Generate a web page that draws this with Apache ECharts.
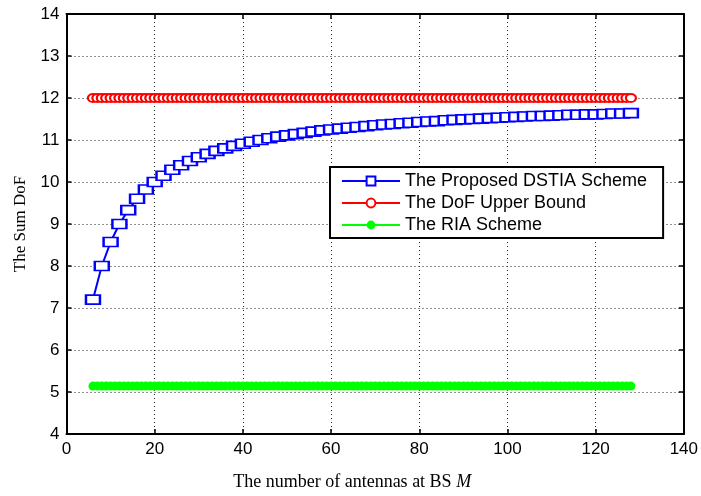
<!DOCTYPE html>
<html lang="en">
<head>
  <meta charset="UTF-8">
  <title>Sum DoF</title>
  <script src="https://cdn.jsdelivr.net/npm/echarts@6/dist/echarts.min.js"></script>
  <style>
    html, body { margin: 0; padding: 0; background: #fff; }
    #main { width: 701px; height: 496px; }
  </style>
</head>
<body>
  <div id="main"></div>
<script>
// number of antennas at BS, M (proposed scheme is plotted at even M)
let antennasEven = [6, 8, 10, 12, 14, 16, 18, 20, 22, 24, 26, 28, 30, 32, 34, 36, 38, 40, 42, 44,
  46, 48, 50, 52, 54, 56, 58, 60, 62, 64, 66, 68, 70, 72, 74, 76, 78, 80, 82, 84,
  86, 88, 90, 92, 94, 96, 98, 100, 102, 104, 106, 108, 110, 112, 114, 116, 118, 120, 122, 124,
  126, 128];
// the two flat curves are plotted at every M
let antennasAll = [6, 7, 8, 9, 10, 11, 12, 13, 14, 15, 16, 17, 18, 19, 20, 21, 22, 23, 24, 25,
  26, 27, 28, 29, 30, 31, 32, 33, 34, 35, 36, 37, 38, 39, 40, 41, 42, 43, 44, 45,
  46, 47, 48, 49, 50, 51, 52, 53, 54, 55, 56, 57, 58, 59, 60, 61, 62, 63, 64, 65,
  66, 67, 68, 69, 70, 71, 72, 73, 74, 75, 76, 77, 78, 79, 80, 81, 82, 83, 84, 85,
  86, 87, 88, 89, 90, 91, 92, 93, 94, 95, 96, 97, 98, 99, 100, 101, 102, 103, 104, 105,
  106, 107, 108, 109, 110, 111, 112, 113, 114, 115, 116, 117, 118, 119, 120, 121, 122, 123, 124, 125,
  126, 127, 128];

// sum DoF
let dstia = [7.20, 8.00, 8.57, 9.00, 9.33, 9.60, 9.82, 10.00, 10.15, 10.29, 10.40, 10.50, 10.59, 10.67, 10.74, 10.80, 10.86, 10.91, 10.96, 11.00,
  11.04, 11.08, 11.11, 11.14, 11.17, 11.20, 11.23, 11.25, 11.27, 11.29, 11.31, 11.33, 11.35, 11.37, 11.38, 11.40, 11.41, 11.43, 11.44, 11.45,
  11.47, 11.48, 11.49, 11.50, 11.51, 11.52, 11.53, 11.54, 11.55, 11.56, 11.57, 11.57, 11.58, 11.59, 11.60, 11.60, 11.61, 11.61, 11.62, 11.63,
  11.63, 11.64];
let upperBound = [12, 12, 12, 12, 12, 12, 12, 12, 12, 12, 12, 12, 12, 12, 12, 12, 12, 12, 12, 12,
  12, 12, 12, 12, 12, 12, 12, 12, 12, 12, 12, 12, 12, 12, 12, 12, 12, 12, 12, 12,
  12, 12, 12, 12, 12, 12, 12, 12, 12, 12, 12, 12, 12, 12, 12, 12, 12, 12, 12, 12,
  12, 12, 12, 12, 12, 12, 12, 12, 12, 12, 12, 12, 12, 12, 12, 12, 12, 12, 12, 12,
  12, 12, 12, 12, 12, 12, 12, 12, 12, 12, 12, 12, 12, 12, 12, 12, 12, 12, 12, 12,
  12, 12, 12, 12, 12, 12, 12, 12, 12, 12, 12, 12, 12, 12, 12, 12, 12, 12, 12, 12,
  12, 12, 12];
let ria = [5.14, 5.14, 5.14, 5.14, 5.14, 5.14, 5.14, 5.14, 5.14, 5.14, 5.14, 5.14, 5.14, 5.14, 5.14, 5.14, 5.14, 5.14, 5.14, 5.14,
  5.14, 5.14, 5.14, 5.14, 5.14, 5.14, 5.14, 5.14, 5.14, 5.14, 5.14, 5.14, 5.14, 5.14, 5.14, 5.14, 5.14, 5.14, 5.14, 5.14,
  5.14, 5.14, 5.14, 5.14, 5.14, 5.14, 5.14, 5.14, 5.14, 5.14, 5.14, 5.14, 5.14, 5.14, 5.14, 5.14, 5.14, 5.14, 5.14, 5.14,
  5.14, 5.14, 5.14, 5.14, 5.14, 5.14, 5.14, 5.14, 5.14, 5.14, 5.14, 5.14, 5.14, 5.14, 5.14, 5.14, 5.14, 5.14, 5.14, 5.14,
  5.14, 5.14, 5.14, 5.14, 5.14, 5.14, 5.14, 5.14, 5.14, 5.14, 5.14, 5.14, 5.14, 5.14, 5.14, 5.14, 5.14, 5.14, 5.14, 5.14,
  5.14, 5.14, 5.14, 5.14, 5.14, 5.14, 5.14, 5.14, 5.14, 5.14, 5.14, 5.14, 5.14, 5.14, 5.14, 5.14, 5.14, 5.14, 5.14, 5.14,
  5.14, 5.14, 5.14];

let seriesNames = ['The Proposed DSTIA Scheme', 'The DoF Upper Bound', 'The RIA Scheme'];

let pairs = function (xs, ys) {
  return xs.map(function (m, i) { return [m, ys[i]]; });
};

let sans = 'Liberation Sans, Arial, sans-serif';
let serif = 'Liberation Serif, Times New Roman, serif';

let dotted = { show: true, lineStyle: { color: '#222', width: 1, type: [1, 3] } };
let axisLine = { show: true, onZero: false, lineStyle: { color: '#000', width: 2 } };
let tick = { show: true, inside: true, length: 5, lineStyle: { color: '#000', width: 1.5 } };

let myChart = echarts.init(document.getElementById('main'));
let option = {
  backgroundColor: '#fff',
  animation: false,
  grid: { left: 66.5, right: 14, top: 14, bottom: 49 },
  legend: {
    orient: 'vertical',
    left: 330,
    top: 167,
    padding: [5, 16, 4, 11],
    itemGap: 4,
    itemWidth: 58,
    itemHeight: 11,
    backgroundColor: '#fff',
    borderColor: '#000',
    borderWidth: 2,
    borderRadius: 0,
    textStyle: { fontFamily: sans, fontSize: 18, color: '#000' },
    data: seriesNames
  },
  xAxis: [
    {
      type: 'value', min: 0, max: 140, interval: 20,
      name: 'The number of antennas at BS {i|M}',
      nameLocation: 'middle', nameGap: 39,
      nameTextStyle: {
        fontFamily: serif, fontSize: 18, color: '#000', padding: [0, 46, 0, 0],
        rich: { i: { fontFamily: serif, fontSize: 18, fontStyle: 'italic', color: '#000' } }
      },
      axisLine: axisLine, axisTick: tick, splitLine: dotted,
      axisLabel: { fontFamily: sans, fontSize: 17, color: '#000', margin: 7 }
    },
    {
      type: 'value', min: 0, max: 140, interval: 20, position: 'top',
      axisLine: axisLine, axisTick: tick, splitLine: { show: false }, axisLabel: { show: false }
    }
  ],
  yAxis: [
    {
      type: 'value', min: 4, max: 14, interval: 1,
      name: 'The Sum DoF',
      nameLocation: 'middle', nameGap: 37,
      nameTextStyle: { fontFamily: serif, fontSize: 17, color: '#000' },
      axisLine: axisLine, axisTick: tick, splitLine: dotted,
      axisLabel: { fontFamily: sans, fontSize: 17, color: '#000', margin: 7 }
    },
    {
      type: 'value', min: 4, max: 14, interval: 1, position: 'right',
      axisLine: axisLine, axisTick: tick, splitLine: { show: false }, axisLabel: { show: false }
    }
  ],
  series: [
    {
      name: seriesNames[0], type: 'line', data: pairs(antennasEven, dstia),
      symbol: 'emptyRect', symbolSize: [14, 9],
      lineStyle: { color: '#0000ff', width: 2 },
      itemStyle: { color: '#0000ff', borderColor: '#0000ff', borderWidth: 2 },
      z: 4
    },
    {
      name: seriesNames[1], type: 'line', data: pairs(antennasAll, upperBound),
      symbol: 'emptyCircle', symbolSize: [10, 8],
      lineStyle: { color: '#ff0000', width: 2 },
      itemStyle: { color: '#ff0000', borderColor: '#ff0000', borderWidth: 3 },
      z: 3
    },
    {
      name: seriesNames[2], type: 'line', data: pairs(antennasAll, ria),
      symbol: 'circle', symbolSize: 9,
      lineStyle: { color: '#00ff00', width: 2 },
      itemStyle: { color: '#00ff00' },
      z: 3
    }
  ]
};
myChart.setOption(option);
</script>
</body>
</html>
